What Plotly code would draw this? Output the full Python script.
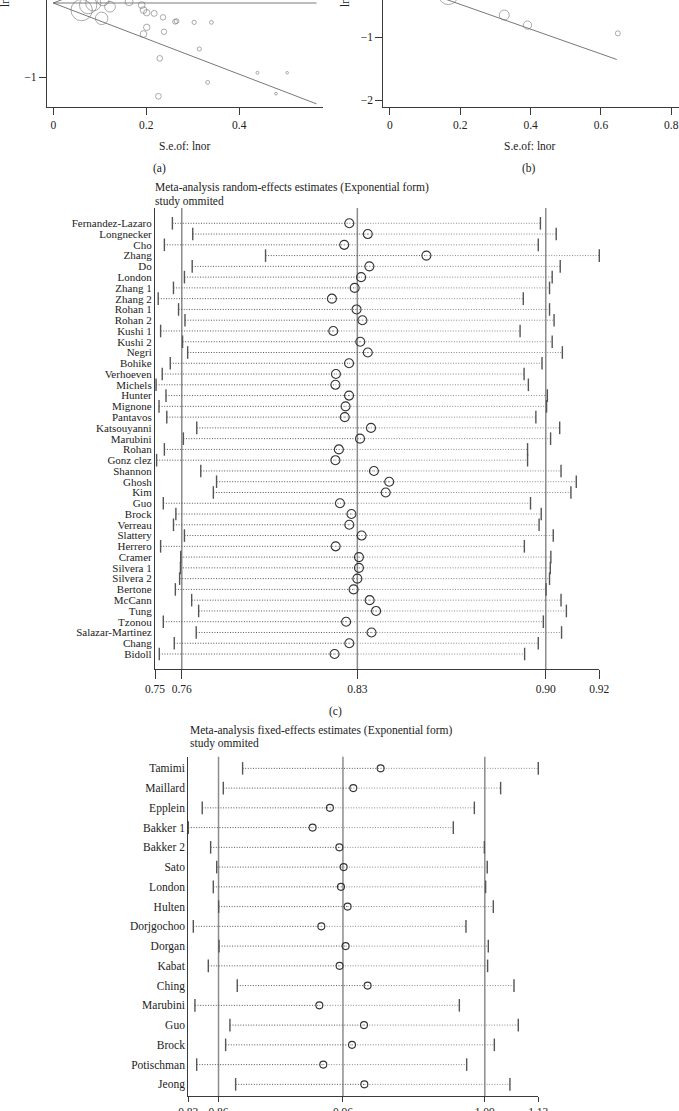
import plotly.graph_objects as go

W, H = 679, 1111
FONT = "Liberation Serif"

# ---------------- Panel (a): funnel plot ----------------
a_se = [0.061, 0.075, 0.086, 0.104, 0.122, 0.163, 0.107, 0.190, 0.194, 0.201, 0.217,
        0.236, 0.262, 0.265, 0.303, 0.340, 0.201, 0.194, 0.238, 0.314, 0.229,
        0.439, 0.503, 0.332, 0.479, 0.226]
a_lnor = [-0.264, -0.209, -0.190, -0.355, -0.227, -0.172, -0.150, -0.209, -0.264, -0.293, -0.300,
          -0.344, -0.392, -0.385, -0.399, -0.399, -0.454, -0.527, -0.502, -0.692, -0.795,
          -0.953, -0.953, -1.059, -1.183, -1.212]
a_theta = -0.186
a_se_max = 0.566

# ---------------- Panel (b): funnel plot ----------------
b_se = [0.166, 0.325, 0.391, 0.648]
b_lnor = [-0.33, -0.651, -0.810, -0.941]
b_theta = -0.09
b_se_max = 0.645

# ---------------- Panel (c): random-effects, study omitted ----------------
c_studies = ["Fernandez-Lazaro", "Longnecker", "Cho", "Zhang", "Do", "London", "Zhang 1",
             "Zhang 2", "Rohan 1", "Rohan 2", "Kushi 1", "Kushi 2", "Negri", "Bohike",
             "Verhoeven", "Michels", "Hunter", "Mignone", "Pantavos", "Katsouyanni",
             "Marubini", "Rohan", "Gonz clez", "Shannon", "Ghosh", "Kim", "Guo", "Brock",
             "Verreau", "Slattery", "Herrero", "Cramer", "Silvera 1", "Silvera 2", "Bertone",
             "McCann", "Tung", "Tzonou", "Salazar-Martinez", "Chang", "Bidoll"]
c_lo = [0.7585, 0.7661, 0.7555, 0.7933, 0.7659, 0.7630, 0.7589, 0.7532, 0.7608, 0.7632,
        0.7541, 0.7623, 0.7642, 0.7577, 0.7547, 0.7524, 0.7561, 0.7535, 0.7564, 0.7676,
        0.7626, 0.7555, 0.7526, 0.7691, 0.7750, 0.7738, 0.7551, 0.7598, 0.7589, 0.7630,
        0.7541, 0.7616, 0.7615, 0.7612, 0.7596, 0.7657, 0.7683, 0.7551, 0.7674, 0.7592, 0.7536]
c_est = [0.8246, 0.8315, 0.8227, 0.8534, 0.8321, 0.8290, 0.8266, 0.8181, 0.8273, 0.8295,
         0.8186, 0.8287, 0.8315, 0.8245, 0.8196, 0.8194, 0.8245, 0.8232, 0.8229, 0.8327,
         0.8286, 0.8207, 0.8194, 0.8338, 0.8395, 0.8382, 0.8211, 0.8254, 0.8246, 0.8292,
         0.8195, 0.8282, 0.8282, 0.8276, 0.8262, 0.8322, 0.8346, 0.8234, 0.8329, 0.8246, 0.8191]
c_hi = [0.8960, 0.9019, 0.8952, 0.9180, 0.9034, 0.9004, 0.8994, 0.8896, 0.8994, 0.9011,
        0.8884, 0.9004, 0.9042, 0.8966, 0.8899, 0.8915, 0.8986, 0.8983, 0.8943, 0.9032,
        0.8998, 0.8912, 0.8912, 0.9037, 0.9094, 0.9074, 0.8923, 0.8963, 0.8955, 0.9008,
        0.8900, 0.8999, 0.8997, 0.8994, 0.8981, 0.9037, 0.9057, 0.8971, 0.9039, 0.8952, 0.8901]
c_pooled = [0.762, 0.8276, 0.898]   # lower CI, estimate, upper CI
c_axis = [0.752, 0.918]             # axis min / max

# ---------------- Panel (d): fixed-effects, study omitted ----------------
d_studies = ["Tamimi", "Maillard", "Epplein", "Bakker 1", "Bakker 2", "Sato", "London",
             "Hulten", "Dorjgochoo", "Dorgan", "Kabat", "Ching", "Marubini", "Guo",
             "Brock", "Potischman", "Jeong"]
d_lo = [0.8777, 0.8611, 0.8430, 0.8310, 0.8502, 0.8554, 0.8525, 0.8571, 0.8353, 0.8574,
        0.8482, 0.8731, 0.8367, 0.8668, 0.8631, 0.8382, 0.8717]
d_est = [0.9964, 0.9729, 0.9528, 0.9379, 0.9609, 0.9646, 0.9623, 0.9680, 0.9454, 0.9663,
         0.9611, 0.9852, 0.9437, 0.9821, 0.9718, 0.9471, 0.9824]
d_hi = [1.1320, 1.0996, 1.0770, 1.0589, 1.0856, 1.0881, 1.0867, 1.0933, 1.0698, 1.0890,
        1.0884, 1.1111, 1.0641, 1.1148, 1.0942, 1.0704, 1.1076]
d_pooled = [0.857, 0.964, 1.086]
d_axis = [0.831, 1.132]


def xd(px):
    return px / W


def yd(py):
    return 1 - py / H


fig = go.Figure()
AX = "#3a3a3a"
TXT = "#222222"

# ---- (a)
fig.add_trace(go.Scatter(x=[0, a_se_max], y=[a_theta, a_theta], mode="lines",
                         line=dict(color="#bdbdbd", width=2.2), xaxis="x", yaxis="y",
                         showlegend=False, hoverinfo="skip"))
fig.add_trace(go.Scatter(x=[0, a_se_max, None, 0, a_se_max],
                         y=[a_theta, a_theta - 1.96 * a_se_max, None, a_theta, a_theta + 1.96 * a_se_max],
                         mode="lines", line=dict(color="#555555", width=0.8),
                         xaxis="x", yaxis="y", showlegend=False, hoverinfo="skip"))
fig.add_trace(go.Scatter(x=a_se, y=a_lnor, mode="markers",
                         marker=dict(symbol="circle-open", size=[1.3 / s for s in a_se],
                                     color="#6a6a6a", line=dict(width=0.8)),
                         xaxis="x", yaxis="y", showlegend=False))

# ---- (b)
fig.add_trace(go.Scatter(x=[0, b_se_max, None, 0, b_se_max],
                         y=[b_theta, b_theta - 1.96 * b_se_max, None, b_theta, b_theta + 1.96 * b_se_max],
                         mode="lines", line=dict(color="#555555", width=0.8),
                         xaxis="x2", yaxis="y2", showlegend=False, hoverinfo="skip"))
fig.add_trace(go.Scatter(x=b_se, y=b_lnor, mode="markers",
                         marker=dict(symbol="circle-open", size=[3.25 / s for s in b_se],
                                     color="#6a6a6a", line=dict(width=0.8)),
                         xaxis="x2", yaxis="y2", showlegend=False))


def ci_traces(lo, est, hi, xa, ya, csize, tsize):
    n = len(est)
    xl, yl, xr, yr = [], [], [], []
    for i in range(n):
        xl += [lo[i], est[i], None]
        yl += [i, i, None]
        xr += [est[i], hi[i], None]
        yr += [i, i, None]
    fig.add_trace(go.Scatter(x=xl, y=yl, mode="lines",
                             line=dict(color="#555555", width=1, dash="1px,1.6px"),
                             xaxis=xa, yaxis=ya, showlegend=False, hoverinfo="skip", cliponaxis=False))
    fig.add_trace(go.Scatter(x=xr, y=yr, mode="lines",
                             line=dict(color="#8a8a8a", width=1, dash="1px,1.6px"),
                             xaxis=xa, yaxis=ya, showlegend=False, hoverinfo="skip", cliponaxis=False))
    fig.add_trace(go.Scatter(x=list(lo) + list(hi), y=list(range(n)) * 2, mode="markers",
                             marker=dict(symbol="line-ns", size=tsize, color="#555555",
                                         line=dict(width=1.4, color="#555555")),
                             xaxis=xa, yaxis=ya, showlegend=False, cliponaxis=False))
    fig.add_trace(go.Scatter(x=est, y=list(range(n)), mode="markers",
                             marker=dict(symbol="circle-open", size=csize, color="#333333",
                                         line=dict(width=1.1)),
                             xaxis=xa, yaxis=ya, showlegend=False, cliponaxis=False))


ci_traces(c_lo, c_est, c_hi, "x3", "y3", 9, 9)
ci_traces(d_lo, d_est, d_hi, "x4", "y4", 7, 9)

# reference lines
shapes = []
for v in c_pooled:
    shapes.append(dict(type="line", xref="x3", yref="y3 domain", x0=v, x1=v, y0=0, y1=1,
                       line=dict(color="#8c8c8c", width=1.5), layer="below"))
for v in d_pooled:
    shapes.append(dict(type="line", xref="x4", yref="y4 domain", x0=v, x1=v, y0=0, y1=1,
                       line=dict(color="#8c8c8c", width=1.5), layer="below"))

axis_common = dict(showline=True, linecolor=AX, linewidth=1.2, showgrid=False, zeroline=False,
                   automargin=False, ticks="outside", tickcolor=AX,
                   tickfont=dict(family=FONT, size=11.5, color=TXT))

nc = len(c_studies)
nd = len(d_studies)
c_ticks = [c_axis[0], c_pooled[0], c_pooled[1], c_pooled[2], c_axis[1]]
d_ticks = [d_axis[0], d_pooled[0], d_pooled[1], d_pooled[2], d_axis[1]]

fig.update_layout(
    width=W, height=H, margin=dict(l=0, r=0, t=0, b=0, autoexpand=False), autosize=False,
    paper_bgcolor="white", plot_bgcolor="white",
    font=dict(family=FONT, size=11.5, color=TXT),
    shapes=shapes,
    xaxis=dict(axis_common, domain=[xd(47), xd(323)], range=[-0.0135, 0.58], dtick=0.2, tick0=0,
               ticklen=7, anchor="y"),
    yaxis=dict(axis_common, domain=[yd(107), 1], range=[-1.33, -0.153], dtick=1, tick0=0,
               ticklen=7, anchor="x"),
    xaxis2=dict(axis_common, domain=[xd(383.3), 1], range=[-0.019, 0.822], dtick=0.2, tick0=0,
                ticklen=7, anchor="y2"),
    yaxis2=dict(axis_common, domain=[yd(107), 1], range=[-2.106, -0.413], dtick=1, tick0=0,
                ticklen=7, anchor="x2"),
    xaxis3=dict(axis_common, domain=[xd(155), xd(599.3)], range=c_axis, tickmode="array",
                tickvals=c_ticks, ticktext=["%.2f" % v for v in c_ticks], ticklen=9, anchor="y3"),
    yaxis3=dict(axis_common, domain=[yd(669.3), yd(208)], range=[nc - 1 + 1.42, -1.42],
                tickmode="array", tickvals=list(range(nc)), ticktext=c_studies, ticks="",
                tickfont=dict(family=FONT, size=11, color=TXT), anchor="x3"),
    xaxis4=dict(axis_common, domain=[xd(188.3), xd(538.3)], range=d_axis, tickmode="array",
                tickvals=d_ticks, ticktext=["%.2f" % v for v in d_ticks], ticklen=5, anchor="y4"),
    yaxis4=dict(axis_common, domain=[yd(1096), yd(756.7)], range=[nd - 1 + 0.59, -0.59],
                tickmode="array", tickvals=list(range(nd)), ticktext=d_studies, ticks="",
                anchor="x4"),
)

ann = []


def add_text(text, px, py, xanchor="center", angle=0, size=11.5):
    ann.append(dict(text=text, x=xd(px), y=yd(py), xref="paper", yref="paper",
                    xanchor=xanchor, yanchor="middle", showarrow=False, textangle=angle,
                    font=dict(family=FONT, size=size, color=TXT)))


add_text("S.e.of: lnor", 185, 146)
add_text("(a)", 159, 168)
add_text("S.e.of: lnor", 530, 146)
add_text("(b)", 529, 168)
add_text("lnor", 5, -2, angle=-90)
add_text("lnor", 345, -2, angle=-90)
add_text("Meta-analysis random-effects estimates (Exponential form)", 153, 187, xanchor="left")
add_text("study ommited", 153, 201, xanchor="left")
add_text("(c)", 335, 711)
add_text("Meta-analysis fixed-effects estimates (Exponential form)", 188, 730, xanchor="left")
add_text("study ommited", 188, 743.5, xanchor="left")
fig.update_layout(annotations=ann)

fig.write_html("out.html", config={"displayModeBar": False},
               post_script="document.body.style.margin='0px';document.body.style.overflow='hidden';")
